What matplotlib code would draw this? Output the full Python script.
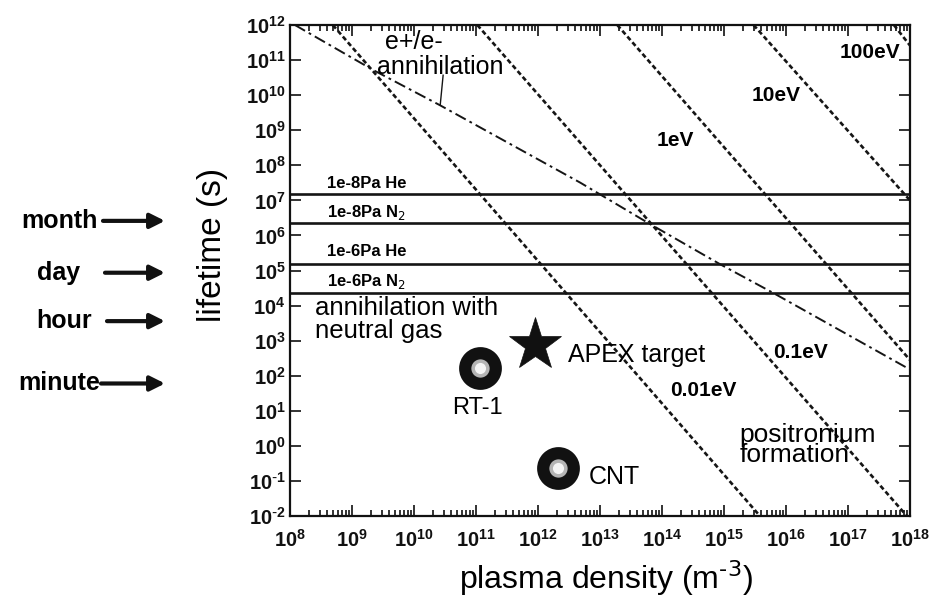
import numpy as np
import matplotlib
matplotlib.use("Agg")
import matplotlib.pyplot as plt
from matplotlib import transforms
from matplotlib.ticker import LogLocator, NullLocator, NullFormatter

plt.rcParams['font.family'] = ['Liberation Sans', 'DejaVu Sans']

# positron lifetime against annihilation with residual gas (s)
gas_labels = ['1e-8Pa He', '1e-8Pa N$_2$', '1e-6Pa He', '1e-6Pa N$_2$']
gas_lifetime = [1.5e7, 2.3e6, 1.5e5, 2.3e4]

# e+/e- annihilation curve
annih_density = [1.2e8, 2.2e9, 2.6e10, 4.8e12, 5.9e13, 8.7e14, 6.2e15, 1.0e18]
annih_lifetime = [1.0e12, 5.2e10, 5.2e9, 3.2e7, 2.3e6, 1.5e5, 2.3e4, 1.5e2]

# positronium formation, one line per temperature
ps_labels = ['0.01eV', '0.1eV', '1eV', '10eV', '100eV']
ps_density = [[4.9e8, 3.8e15], [1.05e11, 8.9e17], [1.9e13, 1.0e18],
              [3.0e15, 1.0e18], [5.5e17, 1.0e18]]
ps_lifetime = [[1e12, 1e-2], [1e12, 1e-2], [1e12, 2.8e2],
               [1e12, 1.0e7], [1e12, 2.6e11]]

# experiments
devices = ['RT-1', 'CNT']
device_density = [1.15e11, 2.1e12]
device_lifetime = [1.7e2, 0.23]
apex_density = 8.9e11
apex_lifetime = 7.5e2

# time scales marked on the left (s)
time_names = ['month', 'day', 'hour', 'minute']
time_seconds = [2.6e6, 8.64e4, 3.6e3, 60]

fig = plt.figure(figsize=(9.38, 5.97), dpi=100)
ax = fig.add_axes([290 / 938, 1 - 516 / 597, 620 / 938, 491 / 597])
ax.set_xscale('log')
ax.set_yscale('log')
ax.set_xlim(1e8, 1e18)
ax.set_ylim(1e-2, 1e12)

for tau in gas_lifetime:
    ax.axhline(tau, color='#151515', lw=1.9)

ax.plot(annih_density, annih_lifetime, color='#151515', lw=1.4,
        dashes=(6, 2.2, 1.4, 2.2))

for xs, ys in zip(ps_density, ps_lifetime):
    ax.plot(xs, ys, color='#151515', lw=1.9, dashes=(1.8, 1.1))

# markers: dark ring with pale core
ax.plot(device_density, device_lifetime, 'o', ms=22, mfc='#b4b4b4',
        mec='#111111', mew=8.8, ls='none')
ax.plot(device_density, device_lifetime, 'o', ms=8, mfc='#f4f4f4',
        mec='none', ls='none')
ax.plot([apex_density], [apex_lifetime], '*', ms=40, color='#111111',
        mec='#111111', mew=0.5)

# labels in the plot
gas_text_y = [3.1e7, 4.4e6, 3.4e5, 4.7e4]
for lab, ty in zip(gas_labels, gas_text_y):
    ax.text(4.0e8, ty, lab, fontsize=12, fontweight='bold', va='center')

ax.text(3.4e9, 3.3e11, 'e+/e-', fontsize=18, va='center')
ax.text(2.5e9, 6.3e10, 'annihilation', fontsize=18, va='center')
ax.plot([2.95e10, 2.65e10], [3.7e10, 5.3e9], color='#151515', lw=1.0)

ax.text(2.5e8, 4.0e3, 'annihilation with\nneutral gas', fontsize=18.5,
        va='center', linespacing=0.92)

ax.text(3.0e12, 3.9e2, 'APEX target', fontsize=18, va='center')
ax.text(1.05e11, 12, 'RT-1', fontsize=17, ha='center', va='center')
ax.text(6.5e12, 0.13, 'CNT', fontsize=18, va='center')
ax.text(1.8e15, 1.05, 'positronium\nformation', fontsize=19,
        va='center', linespacing=0.82)

ps_text_x = [1.35e14, 6.2e15, 8.3e13, 2.8e15, 7.4e16]
ps_text_y = [39, 4.5e2, 5.2e8, 1.0e10, 1.6e11]
for lab, tx, ty in zip(ps_labels, ps_text_x, ps_text_y):
    ax.text(tx, ty, lab, fontsize=15, fontweight='bold', va='center')

# axes styling
def decade_label(k):
    exp = r'\text{-}%d' % -k if k < 0 else '%d' % k
    return r'$\mathregular{10^{%s}}$' % exp

xt = [10.0 ** k for k in range(8, 19)]
yt = [10.0 ** k for k in range(-2, 13)]
ax.set_xticks(xt, [decade_label(k) for k in range(8, 19)],
              fontsize=14.5, fontweight='bold')
ax.set_yticks(yt, [decade_label(k) for k in range(-2, 13)],
              fontsize=14.5, fontweight='bold')
ax.xaxis.set_minor_locator(LogLocator(base=10, subs=np.arange(2, 10), numticks=30))
ax.xaxis.set_minor_formatter(NullFormatter())
ax.yaxis.set_minor_locator(NullLocator())
ax.tick_params(which='both', direction='in', top=True, right=True, width=1.2,
               colors='#111111')
ax.tick_params(which='major', length=8)
ax.tick_params(which='minor', length=4)
ax.tick_params(axis='x', which='major', pad=9)
ax.tick_params(axis='y', which='major', pad=3)
for sp in ax.spines.values():
    sp.set_linewidth(1.6)
    sp.set_color('#111111')

fig.text(606 / 938, 1 - 578 / 597, r'plasma density (m$^{\text{-}3}$)',
         fontsize=23, ha='center', va='center')
fig.text(212 / 938, 1 - 245 / 597, 'lifetime (s)', fontsize=24,
         rotation=90, ha='center', va='center')

# time-scale arrows, x in figure pixels, y on the lifetime axis
trans = transforms.blended_transform_factory(fig.transFigure, ax.transData)
text_right = [98, 80, 92, 100]
arrow_start = [103, 105, 107, 101]
for name, sec, tr, st in zip(time_names, time_seconds, text_right, arrow_start):
    ax.text(tr / 938, sec, name, transform=trans, fontsize=18,
            fontweight='bold', ha='right', va='center', clip_on=False)
    ax.annotate('', xy=(165 / 938, sec), xytext=(st / 938, sec),
                xycoords=trans, textcoords=trans, annotation_clip=False,
                arrowprops=dict(arrowstyle='-|>', lw=3, color='#111111',
                                mutation_scale=22, shrinkA=0, shrinkB=0))

fig.savefig('out.png', dpi=100)
